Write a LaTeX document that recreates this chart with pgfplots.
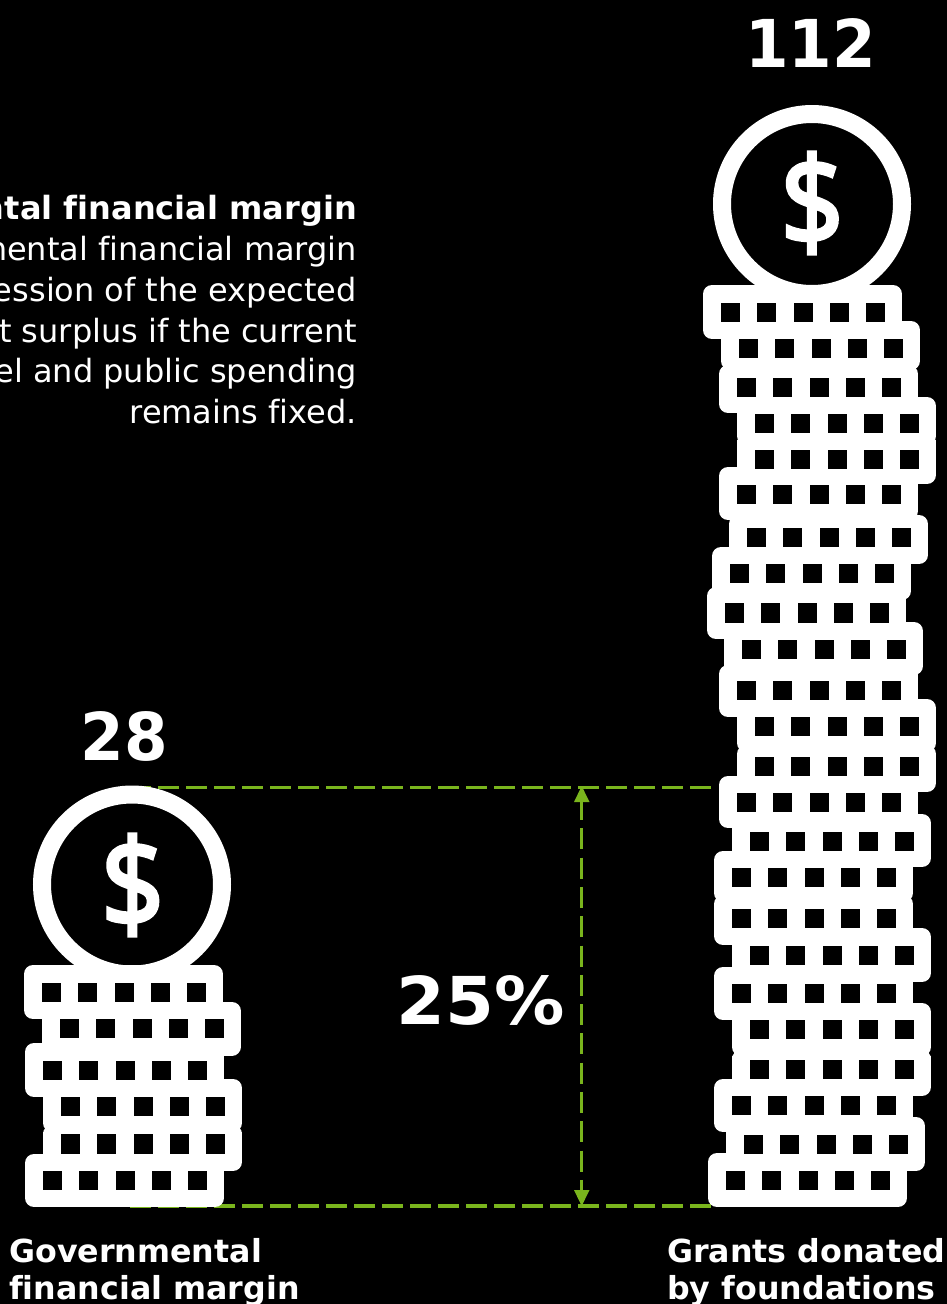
\documentclass[border=0pt]{standalone}
\usepackage{pgfplots}
\pgfplotsset{compat=1.18}
\usepackage{fontspec}
\setmainfont[Ligatures=NoCommon]{DejaVu Sans}
\newfontfamily\dollarfont[FakeBold=2.5,FakeStretch=0.88]{Noto Sans}
\definecolor{leaf}{HTML}{7AB51D}

% One coin of a stack: left edge, top, bottom, row of the five holes
\newcommand\coin[4]{%
  \pgfmathsetmacro\xa{#1+9}\pgfmathsetmacro\xb{#1+190}%
  \pgfmathsetmacro\ya{#2+9}\pgfmathsetmacro\yb{#3-9}%
  \addplot[draw=white,fill=white,line width=18pt,line join=round]
    coordinates {(\xa,\ya)(\xb,\ya)(\xb,\yb)(\xa,\yb)} -- cycle;
  \pgfmathsetmacro\ha{#1+27}\pgfmathsetmacro\hb{#1+63}\pgfmathsetmacro\hc{#1+100}%
  \pgfmathsetmacro\hd{#1+136}\pgfmathsetmacro\he{#1+172}%
  \addplot[only marks,mark=square*,mark size=9.3pt,mark options={draw=none,fill=black}]
    coordinates {(\ha,#4)(\hb,#4)(\hc,#4)(\hd,#4)(\he,#4)};
}
% Square shoulders for a coin whose top edge meets the coin above
\newcommand\shoulder[2]{%
  \pgfmathsetmacro\xb{#1+199}\pgfmathsetmacro\yb{#2+14}%
  \addplot[draw=none,fill=white]
    coordinates {(#1,#2)(\xb,#2)(\xb,\yb)(#1,\yb)} -- cycle;
}
\newcommand\bignum[4]{\node[overlay,text=white,anchor=base,inner sep=0pt] at (axis cs:#1,#2)
  {\fontsize{66}{66}\selectfont\bfseries\addfontfeatures{FakeStretch=#4}#3};}
\newcommand\noteline[2]{\node[overlay,text=white,anchor=base east,inner sep=0pt] at (axis cs:357,#1)
  {\fontsize{32}{32}\selectfont #2};}
\newcommand\catline[3]{\node[overlay,text=white,anchor=base west,inner sep=0pt] at (axis cs:#1,#2)
  {\fontsize{31.7}{32}\selectfont\bfseries #3};}

\begin{document}
\begin{tikzpicture}
\begin{axis}[
  scale only axis,
  width=947pt,height=1304pt,
  xmin=0,xmax=947,ymin=0,ymax=1304,
  y dir=reverse,
  ticks=none,
  axis line style={draw=none},
  axis background/.style={fill=black},
]
% guide lines between the two stack heights
\addplot[leaf,line width=3.2pt,dash pattern=on 21pt off 7pt] coordinates {(130,787.7)(715,787.7)};
\addplot[leaf,line width=3.2pt,dash pattern=on 21pt off 7pt] coordinates {(130,1206)(715,1206)};
\addplot[leaf,line width=3.2pt,dash pattern=on 21pt off 8.3pt] coordinates {(581.7,799)(581.7,1191)};
\addplot[draw=none,fill=leaf] coordinates {(581.7,786)(589.5,802)(574,802)} -- cycle;
\addplot[draw=none,fill=leaf] coordinates {(581.7,1206)(589.5,1190)(574,1190)} -- cycle;

% coin faces
\addplot[only marks,mark=o,mark size=90pt,mark options={draw=white,line width=18pt}]
  coordinates {(812,204)};
\addplot[only marks,mark=o,mark size=90pt,mark options={draw=white,line width=18pt}]
  coordinates {(132,884.5)};

% left stack: 28
\coin{24}{965}{1019}{992}
\coin{42}{1002}{1055.5}{1028}
\coin{25}{1043}{1097}{1070}
\coin{43}{1079}{1132}{1106}
\shoulder{43}{1132}
\coin{43}{1125}{1171}{1143.5}
\coin{25}{1154}{1207}{1180}

% right stack: 112
\coin{703}{285}{339}{312}
\coin{721}{321}{370}{348}
\coin{719}{365}{413}{387}
\coin{737}{397}{445}{423}
\shoulder{737}{440}
\coin{737}{435}{484}{459}
\coin{719}{467}{520}{494}
\coin{729}{515}{564}{537}
\coin{712}{547}{600}{573}
\coin{707}{587}{639}{612.5}
\coin{724}{622}{675}{649}
\coin{719}{665}{717}{690}
\coin{737}{699}{752}{726}
\shoulder{737}{753}
\coin{737}{745}{792}{766}
\coin{719}{776}{828}{802}
\coin{732}{814}{867}{841}
\coin{714}{851}{902}{877}
\shoulder{714}{902.5}
\coin{714}{895}{945}{918}
\coin{732}{928}{982}{955}
\coin{714}{967}{1020}{993}
\coin{732}{1003}{1056}{1029}
\shoulder{732}{1056}
\coin{732}{1050}{1096}{1069}
\coin{714}{1079}{1132}{1105}
\coin{726}{1117}{1171}{1144}
\coin{708}{1153}{1207}{1180}

% dollar signs
\node[text=white,inner sep=0pt] at (axis cs:812,203) {\fontsize{125}{125}\selectfont\dollarfont\$};
\node[text=white,inner sep=0pt] at (axis cs:132.5,885) {\fontsize{125}{125}\selectfont\dollarfont\$};

% values
\bignum{810.5}{67}{112}{0.95}
\bignum{124.5}{760}{28}{0.95}
\bignum{480.5}{1024}{25\%}{1.065}

% explanatory note
\node[overlay,text=white,anchor=base east,inner sep=0pt] at (axis cs:357,219)
  {\fontsize{32}{32}\selectfont\bfseries Governmental financial margin};
\noteline{260}{The governmental financial margin}
\noteline{301}{is an expression of the expected}
\noteline{342}{budget surplus if the current}
\noteline{382}{tax level and public spending}
\noteline{423}{remains fixed.}

% category names
\catline{9}{1262}{Governmental}
\catline{9}{1299}{financial margin}
\catline{667}{1262}{Grants donated}
\catline{667}{1299}{by foundations}
\end{axis}
\end{tikzpicture}
\end{document}
